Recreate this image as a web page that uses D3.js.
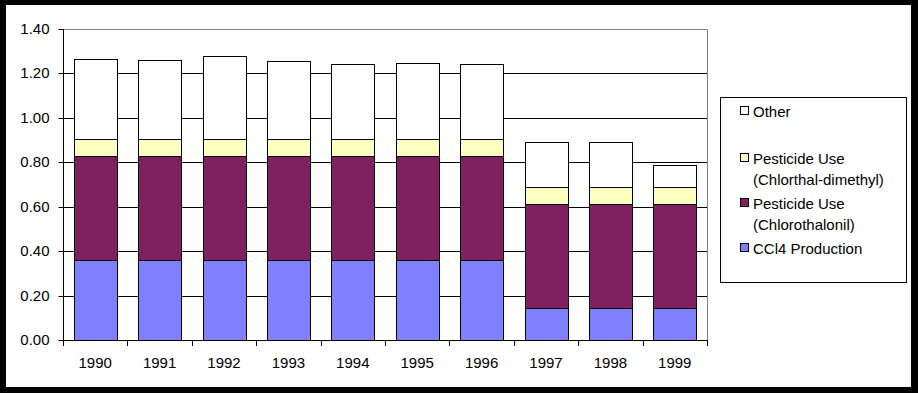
<!DOCTYPE html>
<html><head><meta charset="utf-8">
<script src="https://cdn.jsdelivr.net/npm/d3@7"></script>
<style>html,body{margin:0;padding:0;background:#000;}svg{display:block;}</style>
</head><body><svg id="c" width="918" height="393"></svg>
<script>
const years = ["1990","1991","1992","1993","1994","1995","1996","1997","1998","1999"];
const ccl4 = [0.36,0.36,0.36,0.36,0.36,0.36,0.36,0.143,0.143,0.143];
const chlorothalonil = [0.467,0.467,0.467,0.467,0.467,0.467,0.467,0.468,0.468,0.468];
const chlorthal = [0.077,0.077,0.077,0.077,0.077,0.077,0.077,0.077,0.077,0.077];
const other = [0.36,0.355,0.375,0.35,0.337,0.342,0.337,0.202,0.202,0.099];
const yTicks = [0,0.2,0.4,0.6,0.8,1.0,1.2,1.4];
const seriesNames = ["CCl4 Production","Pesticide Use (Chlorothalonil)","Pesticide Use (Chlorthal-dimethyl)","Other"];
const seriesColors = ["#8080FF","#802060","#FFFFC0","#FFFFFF"];

const svg = d3.select("#c");
const font = "Arial, 'Liberation Sans', sans-serif";
svg.append("rect").attr("x",0).attr("y",0).attr("width",918).attr("height",393).attr("fill","#000");
svg.append("rect").attr("x",6).attr("y",5).attr("width",905).attr("height",382).attr("fill","#fff");

const L=63,R=707,T=29,B=340;
const x = d3.scaleBand().domain(years).range([L,R]).paddingInner(0.333).paddingOuter(0.1667);
const y = d3.scaleLinear().domain([0,1.4]).range([B,T]);

// gridlines
svg.append("g").selectAll("line").data(yTicks.filter(v=>v>0&&v<1.4)).join("line")
  .attr("x1",L).attr("x2",R).attr("y1",d=>Math.round(y(d))+0.5).attr("y2",d=>Math.round(y(d))+0.5)
  .attr("stroke","#000").attr("stroke-width",1);
// plot border (top/right grey)
svg.append("path").attr("d",`M${L},${T+0.5}H${R+0.5}V${B}`).attr("fill","none").attr("stroke","#808080");

const rows = years.map((yr,i)=>({year:yr,s0:ccl4[i],s1:chlorothalonil[i],s2:chlorthal[i],s3:other[i]}));
const stack = d3.stack().keys(["s0","s1","s2","s3"])(rows);
const g = svg.append("g");
stack.forEach((layer,k)=>{
  g.append("g").selectAll("rect").data(layer).join("rect")
    .attr("x",d=>Math.round(x(d.data.year))+0.5)
    .attr("width",Math.round(x.bandwidth()))
    .attr("y",d=>Math.round(y(d[1]))+0.5)
    .attr("height",d=>Math.round(y(d[0]))-Math.round(y(d[1])))
    .attr("fill",seriesColors[k]).attr("stroke","#000").attr("stroke-width",1);
});

// y axis
const ya = d3.axisLeft(y).tickValues(yTicks).tickFormat(d3.format(".2f")).tickSize(5).tickPadding(9);
const yg = svg.append("g").attr("transform",`translate(${L+0.5},0)`).call(ya);
yg.select(".domain").attr("d",`M0,${T}V${B+0.5}`).attr("stroke","#000");
yg.selectAll(".tick line").attr("stroke","#000");
yg.selectAll(".tick").attr("transform",d=>`translate(0,${Math.round(y(d))+0.5})`);
yg.selectAll("text").attr("font-family",font).attr("font-size",15).attr("fill","#000").attr("x",-14);

// x axis
const xb = years.map((_,i)=>L+i*x.step());
xb.push(R);
const xg = svg.append("g");
xg.append("line").attr("x1",L).attr("x2",R+1).attr("y1",B+0.5).attr("y2",B+0.5).attr("stroke","#000");
xg.selectAll("line.t").data(xb).join("line").attr("class","t")
  .attr("x1",d=>Math.round(d)+0.5).attr("x2",d=>Math.round(d)+0.5).attr("y1",B).attr("y2",B+6).attr("stroke","#000");
xg.selectAll("text").data(years).join("text")
  .attr("x",d=>x(d)+x.bandwidth()/2).attr("y",368).attr("text-anchor","middle")
  .attr("font-family",font).attr("font-size",15).attr("fill","#000").text(d=>d);

// legend
const lg = svg.append("g");
lg.append("rect").attr("x",720.5).attr("y",97.5).attr("width",186).attr("height",185).attr("fill","#fff").attr("stroke","#000");
const legItems = [
  {k:3, lines:["Other"], cy:111},
  {k:2, lines:["Pesticide Use","(Chlorthal-dimethyl)"], cy:158},
  {k:1, lines:["Pesticide Use","(Chlorothalonil)"], cy:203},
  {k:0, lines:["CCl4 Production"], cy:248}
];
legItems.forEach(it=>{
  lg.append("rect").attr("x",740.5).attr("y",it.cy-4.5).attr("width",8).attr("height",8)
    .attr("fill",seriesColors[it.k]).attr("stroke","#000");
  it.lines.forEach((t,j)=>{
    lg.append("text").attr("x",753).attr("y",it.cy+5.5+j*21).attr("font-family",font).attr("font-size",15)
      .attr("fill","#000").text(t);
  });
});
</script></body></html>
